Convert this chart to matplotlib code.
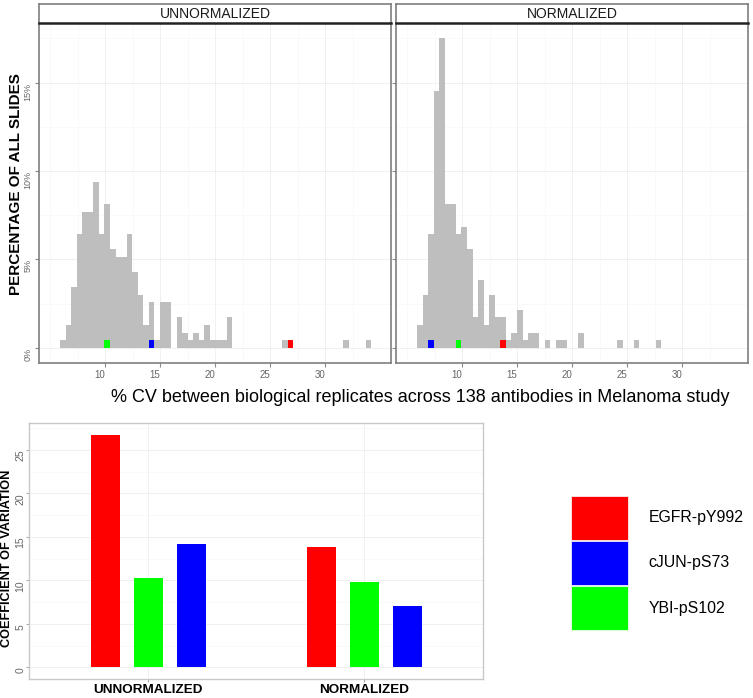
import numpy as np
import matplotlib
matplotlib.use("Agg")
import matplotlib.pyplot as plt
from matplotlib.patches import Patch

plt.rcParams["font.family"] = ["Liberation Sans", "DejaVu Sans"]

W, H = 753, 698

# --- histogram data: % of all slides per CV bin ---
BIN_START = 5.91
BIN_WIDTH = 0.505
PCT_UNNORM = [0.43, 1.28, 3.42, 6.41, 7.69, 7.69, 9.40, 6.41, 8.12, 5.56,
              5.13, 5.13, 6.41, 4.27, 2.99, 1.28, 2.56, 0.43, 2.56, 2.56,
              0.00, 1.71, 0.85, 0.43, 0.85, 0.43, 1.28, 0.43, 0.43, 0.43,
              1.71, 0.00, 0.00, 0.00, 0.00, 0.00, 0.00, 0.00, 0.00, 0.00,
              0.43, 0.43, 0.00, 0.00, 0.00, 0.00, 0.00, 0.00, 0.00, 0.00,
              0.00, 0.43, 0.00, 0.00, 0.00, 0.43]
PCT_NORM = [1.28, 2.99, 6.41, 14.53, 17.52, 8.12, 8.12, 6.41, 6.84, 5.56,
            1.71, 3.85, 1.28, 2.99, 1.71, 1.71, 0.43, 0.85, 2.14, 0.43,
            0.85, 0.85, 0.00, 0.43, 0.00, 0.43, 0.43, 0.00, 0.00, 0.85,
            0.00, 0.00, 0.00, 0.00, 0.00, 0.00, 0.43, 0.00, 0.00, 0.43,
            0.00, 0.00, 0.00, 0.43]
ONE_SLIDE_PCT = 0.427

# --- highlighted antibodies ---
ANTIBODIES = ["EGFR-pY992", "YBI-pS102", "cJUN-pS73"]
COLORS = ["#FF0000", "#00FF00", "#0000FF"]
CV_UNNORM = [26.75, 10.28, 14.22]
CV_NORM = [13.80, 9.78, 7.03]
GROUPS = ["UNNORMALIZED", "NORMALIZED"]
LEGEND_ORDER = [0, 2, 1]

GREY_TXT = "#666666"


def fx(px):
    return px / W


def fy(py):
    return 1 - py / H


def hist_panel(ax, pct, cvs, show_labels):
    edges = BIN_START + BIN_WIDTH * np.arange(len(pct) + 1)
    ax.bar(edges[:-1], pct, width=BIN_WIDTH, align="edge",
           color="#BEBEBE", linewidth=0, zorder=2)
    # one-slide marker for each highlighted antibody, in its own bin
    for cv, c in zip(cvs, COLORS):
        ax.hist([cv], bins=edges, weights=[ONE_SLIDE_PCT], color=c,
                linewidth=0, zorder=3)
    ax.set_xlim(4, 36)
    ax.set_ylim(-0.866, 18.39)
    ax.set_xticks([10, 15, 20, 25, 30])
    ax.set_xticks([5, 7.5, 12.5, 17.5, 22.5, 27.5, 32.5], minor=True)
    ax.set_yticks([0, 5, 10, 15])
    ax.set_yticks([2.5, 7.5, 12.5, 17.5], minor=True)
    ax.set_yticklabels(["0%", "5%", "10%", "15%"])
    ax.grid(which="major", color="#EEEEEE", linewidth=0.6, zorder=0)
    ax.grid(which="minor", color="#F7F7F7", linewidth=0.5, zorder=0)
    ax.set_axisbelow(True)
    ax.tick_params(which="minor", length=0)
    ax.tick_params(which="major", length=3, color="#888888", width=0.8,
                   labelsize=7, labelcolor=GREY_TXT, pad=2)
    ax.tick_params(axis="y", labelrotation=90, pad=1.5, labelsize=6.5)
    plt.setp(ax.get_xticklabels(), ha="right")
    plt.setp(ax.get_yticklabels(), va="top", ha="right")
    if not show_labels:
        ax.tick_params(axis="y", labelleft=False)
    for s in ax.spines.values():
        s.set_color("#7F7F7F")
        s.set_linewidth(1.2)


fig = plt.figure(figsize=(W / 100, H / 100), dpi=100)

panels = [(39, PCT_UNNORM, CV_UNNORM, GROUPS[0], True),
          (396, PCT_NORM, CV_NORM, GROUPS[1], False)]
for left, pct, cvs, title, show in panels:
    ax = fig.add_axes([fx(left), fy(363), fx(352), (363 - 22.7) / H])
    hist_panel(ax, pct, cvs, show)
    strip = fig.add_axes([fx(left), fy(22.7), fx(352), 18.7 / H])
    strip.set_xticks([])
    strip.set_yticks([])
    for s in strip.spines.values():
        s.set_color("#7F7F7F")
        s.set_linewidth(1.2)
    strip.spines["bottom"].set_color("#222222")
    strip.spines["bottom"].set_linewidth(1.8)
    strip.text(0.5, 0.45, title, ha="center", va="center", fontsize=10,
               color="#1A1A1A", transform=strip.transAxes)

fig.text(fx(16), fy(184), "PERCENTAGE OF ALL SLIDES", rotation=90,
         fontsize=11, fontweight="bold", ha="center", va="center")
fig.text(fx(420), fy(398),
         "% CV between biological replicates across 138 antibodies in Melanoma study",
         fontsize=13, ha="center", va="center")

# --- bar chart ---
axb = fig.add_axes([fx(29.3), fy(678.7), fx(453.4), 255.4 / H])
x = np.arange(1, len(GROUPS) + 1)
offsets = [-0.2, 0.0, 0.2]
values = np.array([CV_UNNORM, CV_NORM])
for j, (name, c) in enumerate(zip(ANTIBODIES, COLORS)):
    axb.bar(x + offsets[j], values[:, j], width=0.134, color=c,
            linewidth=0, label=name, zorder=2)
axb.set_xlim(0.449, 2.548)
axb.set_ylim(-1.31, 28.05)
axb.set_xticks(x)
axb.set_xticklabels(GROUPS, fontsize=9.7, fontweight="bold", color="black")
axb.set_yticks([0, 5, 10, 15, 20, 25])
axb.set_yticks([2.5, 7.5, 12.5, 17.5, 22.5, 27.5], minor=True)
axb.grid(which="major", color="#EEEEEE", linewidth=0.6, zorder=0)
axb.grid(which="minor", axis="y", color="#F7F7F7", linewidth=0.5, zorder=0)
axb.set_axisbelow(True)
axb.tick_params(which="minor", length=0)
axb.tick_params(which="major", length=2.5, color="#AAAAAA", width=0.8, pad=1.5)
axb.tick_params(axis="y", labelsize=7.5, labelcolor=GREY_TXT,
                labelrotation=90, pad=0.3)
plt.setp(axb.get_yticklabels(), va="top", ha="right")
for s in axb.spines.values():
    s.set_color("#C8C8C8")
    s.set_linewidth(1.0)

fig.text(fx(7), fy(558), "COEFFICIENT OF VARIATION", rotation=90,
         fontsize=9.2, fontweight="bold", ha="center", va="center")

handles = [Patch(facecolor=COLORS[i], edgecolor="white", linewidth=0.5)
           for i in LEGEND_ORDER]
labels = [ANTIBODIES[i] for i in LEGEND_ORDER]
fs = 11.4
fpx = fs * 100 / 72
fig.legend(handles, labels, loc="upper left",
           bbox_to_anchor=(fx(570.7), fy(496)), frameon=False, fontsize=fs,
           handlelength=57 / fpx, handleheight=3.9,
           handletextpad=20.6 / fpx, labelspacing=1.2 / fpx,
           borderpad=0, borderaxespad=0)

fig.savefig("out.png", dpi=100)
